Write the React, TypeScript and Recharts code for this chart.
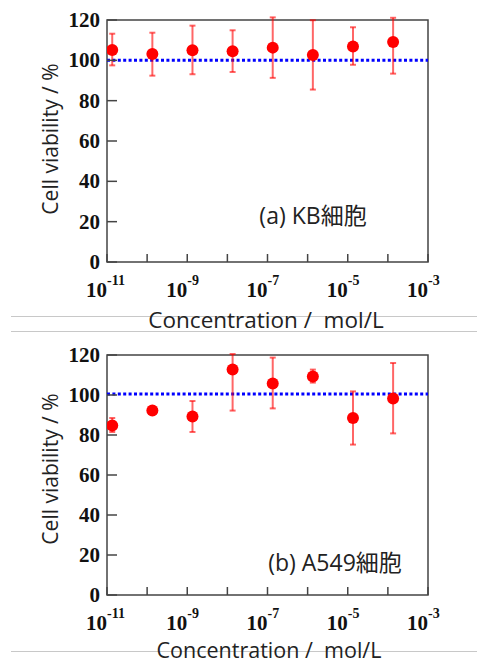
import React from 'react';
import { ScatterChart, Scatter, XAxis, YAxis, ErrorBar, ReferenceLine, ReferenceArea } from 'recharts';

// concentration (mol/L), points sit slightly right of each decade
const concentrations = [1.35e-11, 1.35e-10, 1.35e-9, 1.35e-8, 1.35e-7, 1.35e-6, 1.35e-5, 1.35e-4];
const xTicks = [1e-11, 1e-10, 1e-9, 1e-8, 1e-7, 1e-6, 1e-5, 1e-4, 1e-3];
const yTicks = [0, 20, 40, 60, 80, 100, 120];

// (a) KB cells
const kbViability = [105.1, 103.1, 105.0, 104.5, 106.3, 102.6, 106.9, 109.1];
const kbErrLow = [7.6, 10.7, 11.9, 10.3, 15.0, 17.1, 9.1, 15.7];
const kbErrHigh = [8.1, 10.6, 12.2, 10.4, 15.0, 17.3, 9.5, 12.0];

// (b) A549 cells
const a549Viability = [84.7, 92.2, 89.2, 112.7, 105.8, 109.2, 88.5, 98.2];
const a549ErrLow = [3.2, 1.0, 7.7, 20.5, 12.5, 3.0, 13.3, 17.4];
const a549ErrHigh = [3.8, 1.0, 7.8, 7.8, 12.9, 3.5, 13.3, 17.8];

const SERIF = '"Liberation Serif", "Times New Roman", serif';
const SANS = '"Open Sans", "Noto Sans CJK JP", sans-serif';

const XTick = (props: any) => {
  const { x, y, payload } = props;
  const exp = Math.round(Math.log10(payload.value));
  return (
    <g>
      <line x1={x} y1={y} x2={x} y2={y - 8} stroke="#444" strokeWidth={1.5} />
      {exp % 2 !== 0 && (
        <g fontFamily={SERIF} fontWeight="bold" fill="#111">
          <text x={x} y={y + 35} textAnchor="end" fontSize={21}>10</text>
          <text x={x} y={y + 23} textAnchor="start" fontSize={14}>{exp}</text>
        </g>
      )}
    </g>
  );
};

const YTick = (props: any) => {
  const { x, y, payload } = props;
  return (
    <g>
      <line x1={x} y1={y} x2={x + 10} y2={y} stroke="#444" strokeWidth={1.5} />
      <text x={x - 7} y={y + 7} textAnchor="end" fontFamily={SERIF} fontWeight="bold" fontSize={21} fill="#111">
        {payload.value}
      </text>
    </g>
  );
};

const Dot = (props: any) => <circle cx={props.cx} cy={props.cy} r={6} fill="#ff0000" />;

interface PanelProps {
  values: number[];
  errLow: number[];
  errHigh: number[];
  refValue: number;
  top: number;
  height: number;
  marginTop: number;
  marginBottom: number;
}

const Panel: React.FC<PanelProps> = ({ values, errLow, errHigh, refValue, top, height, marginTop, marginBottom }) => {
  const data = concentrations.map((c, i) => ({ x: c, y: values[i], err: [errLow[i], errHigh[i]] }));
  return (
    <div style={{ position: 'absolute', left: 0, top }}>
      <ScatterChart width={477} height={height} margin={{ top: marginTop, right: 49, bottom: marginBottom, left: 47 }}>
        <XAxis
          type="number"
          dataKey="x"
          scale="log"
          domain={[1e-11, 1e-3]}
          ticks={xTicks}
          interval={0}
          allowDataOverflow
          axisLine={false}
          tickLine={false}
          tickSize={0}
          tickMargin={0}
          height={40}
          tick={<XTick />}
        />
        <YAxis
          type="number"
          dataKey="y"
          domain={[0, 120]}
          ticks={yTicks}
          interval={0}
          allowDataOverflow
          axisLine={false}
          tickLine={false}
          tickSize={0}
          tickMargin={0}
          width={60}
          tick={<YTick />}
        />
        <ReferenceArea x1={1e-11} x2={1e-3} y1={0} y2={120} fill="none" stroke="#444" strokeWidth={1.5} ifOverflow="visible" />
        <ReferenceLine y={refValue} stroke="#0000ff" strokeWidth={3} strokeDasharray="3 2.4" />
        <Scatter data={data} shape={<Dot />} isAnimationActive={false}>
          <ErrorBar dataKey="err" direction="y" width={3} stroke="#ff0000" strokeOpacity={0.6} strokeWidth={2} />
        </Scatter>
      </ScatterChart>
    </div>
  );
};

const textStyle: React.CSSProperties = {
  position: 'absolute',
  fontFamily: SANS,
  color: '#222',
  whiteSpace: 'pre',
  lineHeight: 1,
};

const grayLine = (top: number) => (
  <div style={{ position: 'absolute', left: 11, top, width: 466, height: 1, background: '#c8c8c8' }} />
);

export default function App() {
  return (
    <div style={{ position: 'absolute', left: 0, top: 0, width: 477, height: 665, background: '#fff', overflow: 'hidden' }}>
      {grayLine(316)}
      {grayLine(331)}
      {grayLine(651)}
      <Panel values={kbViability} errLow={kbErrLow} errHigh={kbErrHigh} refValue={100} top={0} height={330} marginTop={20} marginBottom={28} />
      <Panel values={a549Viability} errLow={a549ErrLow} errHigh={a549ErrHigh} refValue={100.5} top={330} height={335} marginTop={25} marginBottom={30} />

      <div style={{ ...textStyle, left: 50, top: 139, fontSize: 21, transform: 'translate(-50%, -50%) rotate(-90deg)' }}>Cell viability / %</div>
      <div style={{ ...textStyle, left: 50, top: 469, fontSize: 21, transform: 'translate(-50%, -50%) rotate(-90deg)' }}>Cell viability / %</div>

      <div style={{ ...textStyle, left: 266, top: 320, fontSize: 22.5, transform: 'translate(-50%, -50%)' }}>Concentration /  mol/L</div>
      <div style={{ ...textStyle, left: 269, top: 650, fontSize: 21.5, transform: 'translate(-50%, -50%)' }}>Concentration /  mol/L</div>

      <div style={{ ...textStyle, left: 313, top: 215, fontSize: 23, transform: 'translate(-50%, -50%)' }}>(a) KB細胞</div>
      <div style={{ ...textStyle, left: 335, top: 562, fontSize: 23, transform: 'translate(-50%, -50%)' }}>(b) A549細胞</div>
    </div>
  );
}
